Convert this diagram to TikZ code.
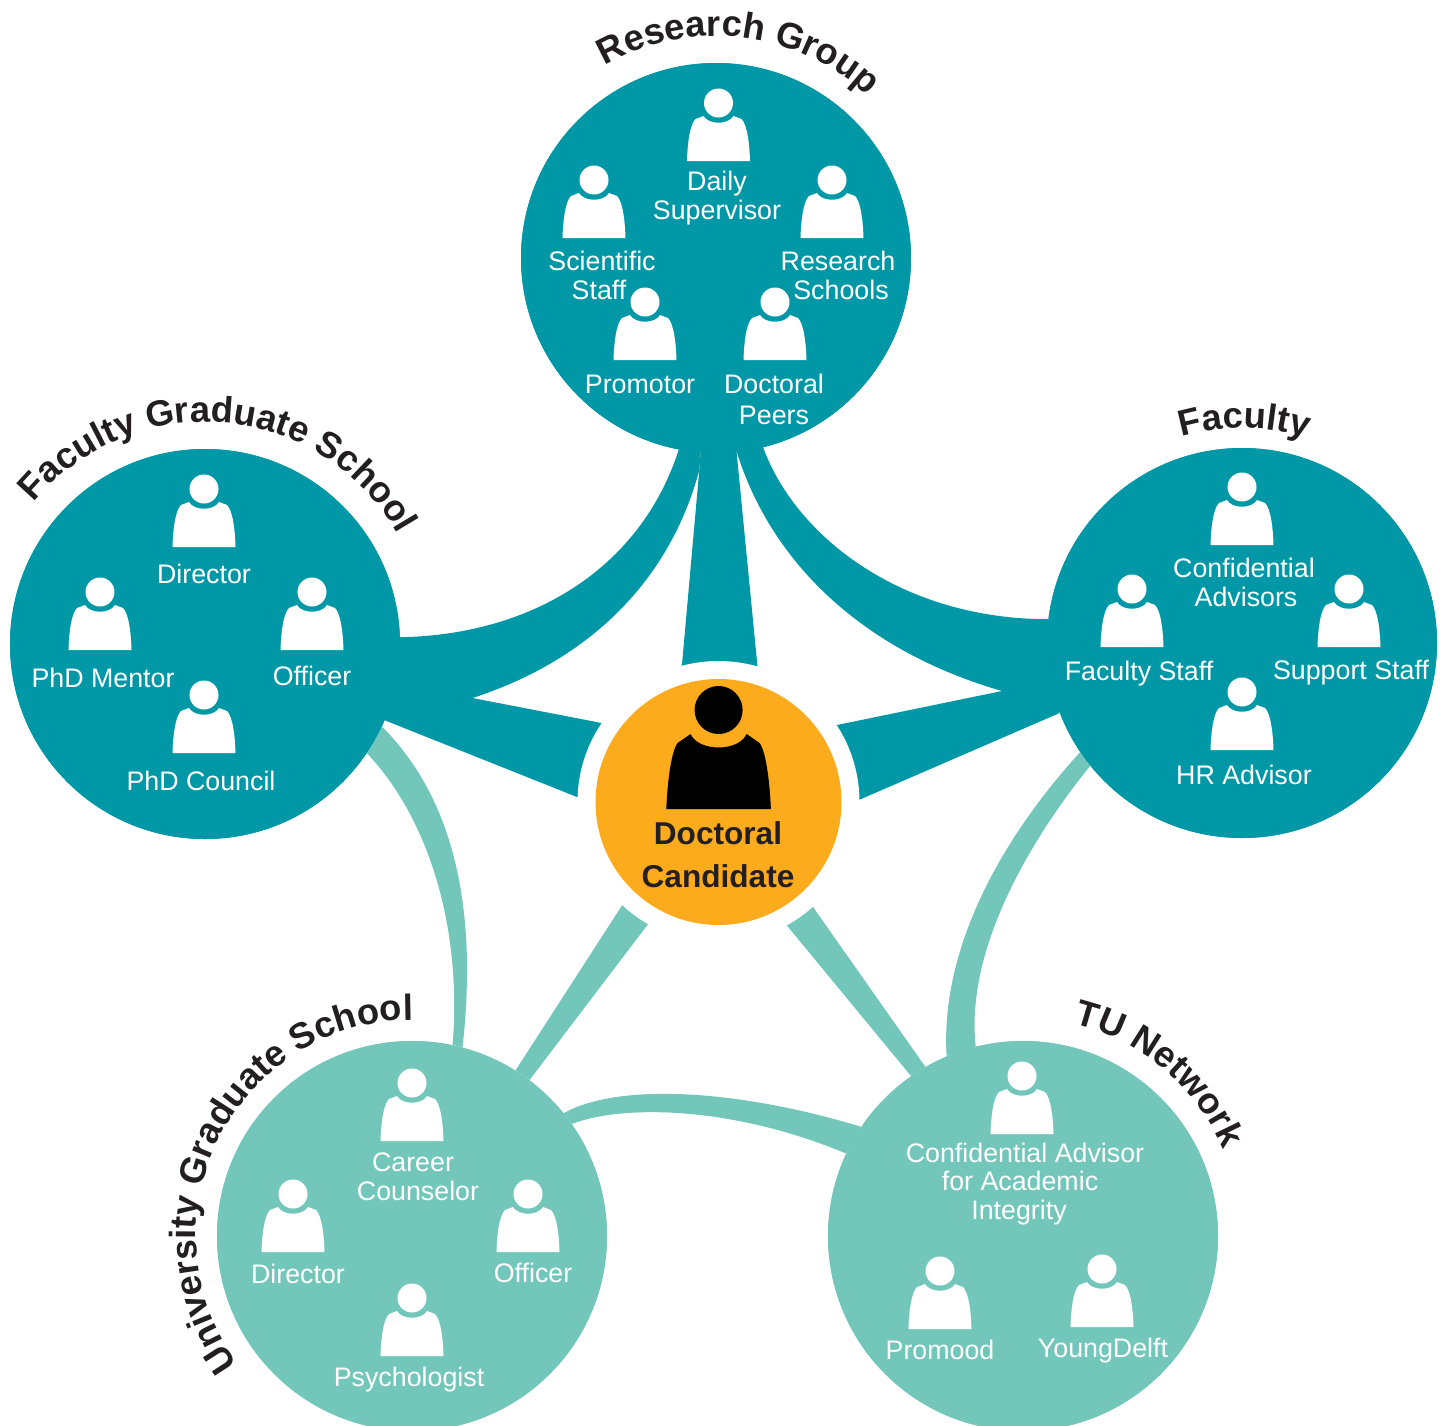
\documentclass[tikz,border=0pt]{standalone}
\usepackage{fontspec}
\setmainfont{Liberation Sans}
\usetikzlibrary{decorations.text}
\definecolor{tealdark}{RGB}{0,152,166}
\definecolor{teallight}{RGB}{115,199,186}
\definecolor{hubfill}{RGB}{252,171,28}
\definecolor{inkdark}{RGB}{35,31,32}
\def\titlefont{\fontsize{18.2}{19}\bfseries\selectfont}
\newcommand{\arctitle}[6]{%
  \begin{scope}[shift={(#1,#2)},y=0.5pt]
    \path[decorate,decoration={text along path,text={|\titlefont\color{inkdark}|#6},text align=center}]
      (#3:#5) arc[start angle=#3,end angle=#4,radius=#5*0.5pt];
  \end{scope}}
\tikzset{
  disc/.style={circle,minimum size=195pt,inner sep=0pt,fill=#1},
  halodisc/.style={circle,minimum size=141pt,inner sep=0pt,fill=white},
  hubdisc/.style={circle,minimum size=123pt,inner sep=0pt,fill=hubfill},
  lab/.style={text=white,align=center,inner sep=0pt,font=\fontsize{13.4}{14.4}\selectfont},
  hublab/.style={text=inkdark,align=center,inner sep=0pt,font=\fontsize{15.8}{21.5}\bfseries\selectfont},
  person/.pic={
    \path[pic actions] (0,-58) circle[radius=14.5];
    \path[pic actions] (-31.5,0) .. controls (-31,-16) and (-29,-36) .. (-23,-42)
      -- (-15,-45) .. controls (-10,-36) and (10,-36) .. (15,-45)
      -- (23,-42) .. controls (29,-36) and (31,-16) .. (31.5,0) -- cycle;
  },
  bigperson/.pic={
    \path[pic actions] (0,-99) circle[radius=24];
    \path[pic actions] (-52.3,0) .. controls (-51,-30) and (-47,-58) .. (-41,-66)
      -- (-28,-75) .. controls (-20,-57) and (20,-57) .. (28,-75)
      -- (41,-66) .. controls (47,-58) and (51,-30) .. (52.3,0) -- cycle;
  }
}
\begin{document}
\begin{tikzpicture}[x=0.5pt,y=-0.5pt]
\clip (0,0) rectangle (1448,1426);
\fill[white] (0,0) rectangle (1448,1426);
% discs first so that their anchors exist
\path node[disc=tealdark] (rg) at (716,258) {}
      node[disc=tealdark] (fgs) at (205,644) {}
      node[disc=tealdark] (fac) at (1242,643) {}
      node[disc=teallight] (ugs) at (412,1236) {}
      node[disc=teallight] (tu) at (1023,1236) {}
      node[halodisc] (halo) at (718.5,802) {}
      node[hubdisc] (hub) at (718.5,802) {};
\coordinate (tipL) at (699.3,470);
\coordinate (tipR) at (736.5,451);
\coordinate (tipFGS) at (472.5,698);
\coordinate (tipFAC) at (1002,691);
% dark connectors
\fill[tealdark] (rg.259.3) .. controls (640,570) and (530,635) .. (fgs.2.6)
  -- (fgs.337.7) -- (halo.178.4) -- (halo.center) -- (halo.146.6) -- (tipFGS)
  .. controls (590,660) and (670,580) .. (tipL) -- (rg.center) -- cycle;
\fill[tealdark] (rg.284) .. controls (795,535) and (900,619) .. (fac.173)
  -- (fac.201.5) -- (halo.1.6) -- (halo.center) -- (halo.33.4) -- (tipFAC)
  .. controls (860,650) and (770,560) .. (tipR) -- (rg.center) -- cycle;
\fill[tealdark] (tipL) -- (halo.105.8) -- (halo.center) -- (halo.74.5) -- (tipR) -- (rg.center) -- cycle;
% light connectors
\fill[teallight] (halo.227.7) -- (ugs.58.3) -- (ugs.53.8) -- (halo.240.2) -- (halo.center) -- cycle;
\fill[teallight] (halo.312.3) -- (tu.120.9) -- (tu.125.7) -- (halo.299.8) -- (halo.center) -- cycle;
\fill[teallight] (ugs.39.2) .. controls (620,1082) and (740,1090) .. (tu.146.5)
  -- (tu.155.6) .. controls (730,1105) and (620,1105) .. (ugs.35) -- cycle;
\fill[teallight] (fgs.335.5) .. controls (445,790) and (480,890) .. (ugs.75.2)
  -- (ugs.78.3) .. controls (462,930) and (430,820) .. (fgs.326.1) -- cycle;
\fill[teallight] (fac.214.2) .. controls (1000,840) and (940,950) .. (tu.113.5)
  -- (tu.104.2) .. controls (965,950) and (1030,840) .. (fac.219.4) -- cycle;
% discs on top of the connectors
\path node[disc=tealdark] at (rg) {}
      node[disc=tealdark] at (fgs) {}
      node[disc=tealdark] at (fac) {}
      node[disc=teallight] at (ugs) {}
      node[disc=teallight] at (tu) {}
      node[halodisc] at (halo) {}
      node[hubdisc] at (hub) {};
% people
\foreach \px/\py in {718.5/161,594/238,832/238,645/360,775/360,
  204/547,100/650,312/650,204/753,
  1242/545,1132/647,1349/647,1242/750,
  412/1141,293/1252,528/1252,412/1356,
  1022/1134,940/1329,1102/1327}
  \pic[fill=white] at (\px,\py) {person};
\pic[fill=black] at (718.6,809) {bigperson};
% labels
\node[lab] (l1) at (717,198) {Daily\\Supervisor};
\node[lab] (l2) at (602,275.5) {Scientific\\\hspace*{-3pt}Staff};
\node[lab] (l3) at (838,275.5) {Research\\\hspace*{3pt}Schools};
\node[lab] (l4) at (640,384) {Promotor};
\node[lab] (l5) at (774,399.5) {Doctoral\\[1pt]Peers};
\node[lab] (l6) at (204,574) {Director};
\node[lab] (l7) at (103,678) {PhD Mentor};
\node[lab] (l8) at (312,676) {Officer};
\node[lab] (l9) at (201,781) {PhD Council};
\node[lab] (l10) at (1244,582.5) {Confidential\\\hspace*{2pt}Advisors};
\node[lab] (l11) at (1139,674) {Faculty Staff};
\node[lab] (l12) at (1351,673) {Support Staff};
\node[lab] (l13) at (1244,775) {HR Advisor};
\node[lab] (l14) at (418,1177) {\hspace*{-5pt}Career\\Counselor};
\node[lab] (l15) at (298,1274) {Director};
\node[lab] (l16) at (533,1273) {Officer};
\node[lab] (l17) at (409,1380) {Psychologist};
\node[lab] (l18) at (1025,1184) {Confidential Advisor\\\hspace*{-5pt}for Academic\\\hspace*{-6pt}Integrity};
\node[lab] (l19) at (940,1350) {Promood};
\node[lab] (l20) at (1103,1351) {YoungDelft};
\node[hublab] (l21) at (718,855) {Doctoral\\Candidate};
% curved titles
\arctitle{716}{258}{163.5}{3.5}{222}{Research Group}
\arctitle{205}{644}{175}{-5}{222}{Faculty Graduate School}
\arctitle{1242}{643}{141.3}{37.3}{215}{Faculty}
\arctitle{412}{1236}{245}{61}{216}{University Graduate School}
\arctitle{1023}{1236}{110}{-10}{218}{TU Network}
\end{tikzpicture}
\end{document}
